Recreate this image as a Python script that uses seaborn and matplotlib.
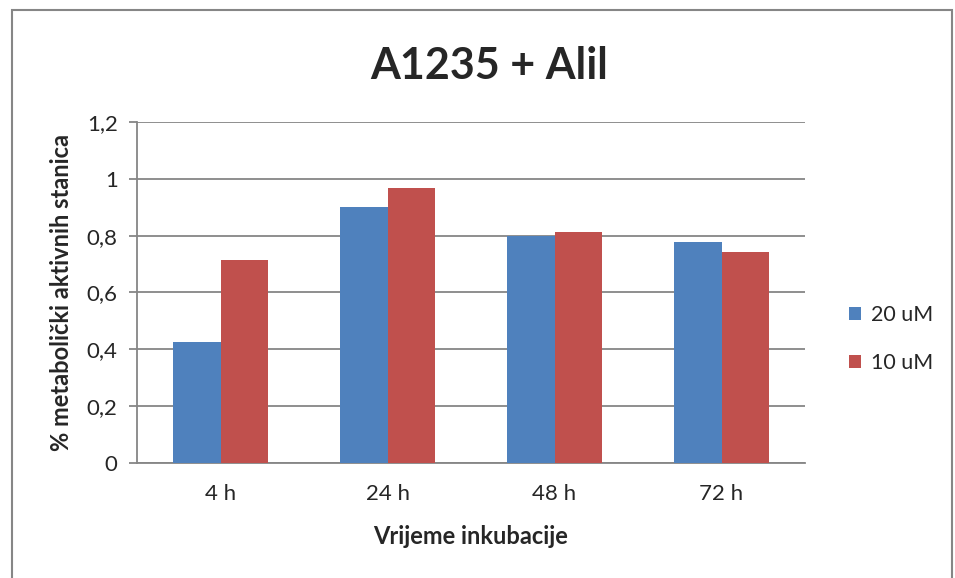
import pandas as pd
import seaborn as sns
import matplotlib.pyplot as plt
from matplotlib.patches import Rectangle
from matplotlib.ticker import FuncFormatter

# values
times = ['4 h', '24 h', '48 h', '72 h']
conc_20 = [0.426, 0.899, 0.799, 0.779]
conc_10 = [0.715, 0.966, 0.813, 0.743]
series = ['20 uM', '10 uM']
colors = ['#4F81BD', '#C0504D']

df = pd.DataFrame({
    'time': times * 2,
    'value': conc_20 + conc_10,
    'conc': [series[0]] * 4 + [series[1]] * 4,
})

sns.set_style('white')
plt.rcParams['font.family'] = ['Lato', 'DejaVu Sans']

fig = plt.figure(figsize=(9.55, 5.78), dpi=100)
ax = fig.add_axes([0.1435, 0.199, 0.6995, 0.590])

sns.barplot(data=df, x='time', y='value', hue='conc', order=times,
            hue_order=series, palette=colors, width=2 / 3.5, gap=0,
            linewidth=0, saturation=1, ax=ax, zorder=3)

ax.set_ylim(0, 1.2)
ax.set_yticks([0, 0.2, 0.4, 0.6, 0.8, 1.0, 1.2])
ax.yaxis.set_major_formatter(FuncFormatter(
    lambda v, p: ('%g' % round(v, 1)).replace('.', ',')))
ax.set_xlim(-0.5, 3.5)
ax.grid(axis='y', color='#868686', linewidth=1.3, zorder=0)
ax.set_axisbelow(True)

for s in ['top', 'right']:
    ax.spines[s].set_visible(False)
ax.spines['left'].set_color('#868686')
ax.spines['bottom'].set_color('#868686')
ax.spines['left'].set_linewidth(1.3)
ax.spines['bottom'].set_linewidth(1.3)

ax.tick_params(axis='y', direction='out', length=6, width=1.3,
               color='#868686', labelsize=16, pad=8, left=True)
ax.tick_params(axis='x', length=0, labelsize=16, pad=15)

ax.set_xlabel('Vrijeme inkubacije', fontsize=17, fontweight='bold',
              labelpad=15)
ax.set_ylabel('% metabolički aktivnih stanica', fontsize=17,
              fontweight='bold', labelpad=10)

fig.text(0.512, 0.886, 'A1235 + Alil', ha='center', va='center',
         fontsize=31, fontweight='bold')

leg = ax.legend(loc='center left', bbox_to_anchor=(849 / 955, 0.4135),
                bbox_transform=fig.transFigure, frameon=False, fontsize=15.5,
                handlelength=0.55, handleheight=0.55, labelspacing=1.3,
                handletextpad=0.45, borderaxespad=0, borderpad=0)

fig.patches.append(Rectangle((12 / 955, -0.1), 940 / 955, 1.1 - 10 / 578,
                             transform=fig.transFigure, fill=False,
                             edgecolor='#868686', linewidth=1.5))

fig.savefig('out.png', dpi=100)
